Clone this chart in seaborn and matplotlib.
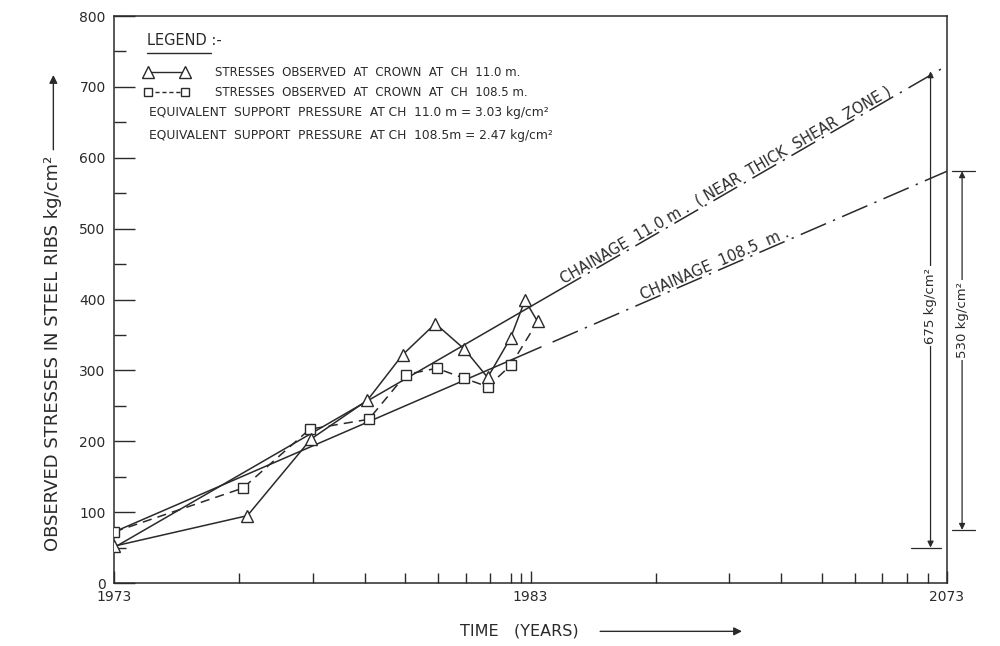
import numpy as np
import pandas as pd
import matplotlib
matplotlib.use("Agg")
import matplotlib.pyplot as plt
from matplotlib.lines import Line2D
from matplotlib.ticker import FixedLocator, NullFormatter, MultipleLocator
import seaborn as sns

# time axis is logarithmic: 1 -> 1973, 10 -> 1983, 100 -> 2073
year_ticks = [1, 10, 100]
year_labels = ["1973", "1983", "2073"]
year_minor = [2, 3, 4, 5, 6, 7, 8, 9, 9.5, 20, 30, 40, 50, 60, 70, 80, 90]

# observed stresses at crown (kg/cm2)
t_ch11 = [1.0, 2.09, 2.97, 4.06, 4.93, 5.91, 6.94, 7.89, 8.96, 9.7, 10.4]
s_ch11 = [52, 95, 203, 258, 322, 366, 330, 290, 346, 399, 369]
t_ch108 = [1.0, 2.04, 2.95, 4.09, 5.02, 5.95, 6.92, 7.89, 8.96, 10.4]
s_ch108 = [72, 134, 217, 231, 294, 303, 289, 277, 307, 369]

# fitted trend lines and their extrapolation to 2073
fit11_t = [1.0, 11.6]
fit11_s = [50, 412]
ext11_t = [11.6, 100]
ext11_s = [412, 730]
fit108_t = [1.0, 10.6]
fit108_s = [72, 333]
ext108_t = [11.3, 100]
ext108_s = [340, 581]

# dimension marks on the right
dim_t = [91.3, 108.7]
dim_top = [722, 581]
dim_bot = [50, 75]
dim_bar_lo = [82, 102.7]
dim_bar_hi = [96.6, 117]
dim_text_y = [391, 371]
dim_labels = ["675 kg/cm²", "530 kg/cm²"]

ink = "#2a2a2a"

sns.set_style("ticks")
plt.rcParams["font.family"] = ["DejaVu Sans"]
plt.rcParams["text.color"] = ink
plt.rcParams["axes.labelcolor"] = ink
plt.rcParams["xtick.color"] = ink
plt.rcParams["ytick.color"] = ink

fig = plt.figure(figsize=(10, 6.46), dpi=100)
fig.patch.set_facecolor("white")
ax = fig.add_axes([0.114, 0.0975, 0.833, 0.8777])

df11 = pd.DataFrame({"t": t_ch11, "stress": s_ch11})
df108 = pd.DataFrame({"t": t_ch108, "stress": s_ch108})

sns.lineplot(data=df11, x="t", y="stress", ax=ax, color=ink, lw=1.1, sort=False,
             marker="^", markersize=9, markerfacecolor="white", markeredgecolor=ink,
             markeredgewidth=1.0, legend=False, zorder=4)
sns.lineplot(data=df108, x="t", y="stress", ax=ax, color=ink, lw=1.1, sort=False,
             linestyle=(0, (6, 4)), marker="s", markersize=7, markerfacecolor="white",
             markeredgecolor=ink, markeredgewidth=1.0,
             markevery=list(range(len(t_ch108) - 1)), legend=False, zorder=3)

# trend lines
sns.lineplot(x=fit11_t, y=fit11_s, ax=ax, color=ink, lw=1.1, legend=False)
sns.lineplot(x=fit108_t, y=fit108_s, ax=ax, color=ink, lw=1.1, legend=False)
sns.lineplot(x=ext11_t, y=ext11_s, ax=ax, color=ink, lw=1.1, legend=False,
             linestyle=(0, (18, 5, 1.5, 5)))
sns.lineplot(x=ext108_t, y=ext108_s, ax=ax, color=ink, lw=1.1, legend=False,
             linestyle=(0, (18, 5, 1.5, 5)))

ax.set_xscale("log")
ax.set_xlim(1, 100)
ax.set_ylim(0, 800)
ax.xaxis.set_major_locator(FixedLocator(year_ticks))
ax.set_xticklabels(year_labels)
ax.xaxis.set_minor_locator(FixedLocator(year_minor))
ax.xaxis.set_minor_formatter(NullFormatter())
ax.set_yticks(range(0, 801, 100))
ax.yaxis.set_minor_locator(MultipleLocator(50))

ax.tick_params(axis="x", which="major", direction="in", length=9, width=1, labelsize=10, pad=5)
ax.tick_params(axis="x", which="minor", direction="in", length=7, width=1)
ax.tick_params(axis="y", which="major", direction="in", length=15, width=1, labelsize=10, pad=6)
ax.tick_params(axis="y", which="minor", direction="in", length=8.5, width=1)
for sp in ax.spines.values():
    sp.set_visible(True)
    sp.set_color(ink)
    sp.set_linewidth(1.1)

ax.set_xlabel("TIME   (YEARS)", fontsize=11.5)
ax.xaxis.set_label_coords(0.486, -0.072)
ax.set_ylabel("OBSERVED STRESSES IN STEEL RIBS kg/cm²", fontsize=13)
ax.yaxis.set_label_coords(-0.062, 0.405)

# texts along the extrapolated lines
def along(t_pts, s_pts, t_mid, text):
    p1 = ax.transData.transform((t_pts[0], s_pts[0]))
    p2 = ax.transData.transform((t_pts[1], s_pts[1]))
    ang = np.degrees(np.arctan2(p2[1] - p1[1], p2[0] - p1[0]))
    frac = (np.log10(t_mid) - np.log10(t_pts[0])) / (np.log10(t_pts[1]) - np.log10(t_pts[0]))
    s_mid = s_pts[0] + frac * (s_pts[1] - s_pts[0])
    ax.text(t_mid, s_mid, text, rotation=ang, rotation_mode="anchor", ha="center",
            va="bottom", fontsize=10.5, color=ink)

along(ext11_t, ext11_s, 30.0, "CHAINAGE  11.0 m .  ( NEAR  THICK  SHEAR  ZONE )")
along(ext108_t, ext108_s, 28.1, "CHAINAGE  108.5  m .")

# dimension arrows
for t, top, bot, lo, hi, ty, lab in zip(dim_t, dim_top, dim_bot, dim_bar_lo, dim_bar_hi,
                                         dim_text_y, dim_labels):
    ax.annotate("", xy=(t, top), xytext=(t, bot), annotation_clip=False,
                arrowprops=dict(arrowstyle="<|-|>", color=ink, lw=0.9,
                                mutation_scale=9, shrinkA=0, shrinkB=0))
    ax.plot([lo, hi], [bot, bot], color=ink, lw=0.9, clip_on=False)
    ax.text(t, ty, lab, rotation=90, ha="center", va="center", fontsize=9.5,
            color=ink, zorder=6, clip_on=False,
            bbox=dict(fc="white", ec="none", pad=1.5))
ax.plot([dim_bar_lo[1], dim_bar_hi[1]], [dim_top[1], dim_top[1]], color=ink, lw=0.9,
        clip_on=False)

# legend block
ax.text(0.040, 0.957, "LEGEND :-", transform=ax.transAxes, fontsize=10.5,
        ha="left", va="center")
ax.plot([0.040, 0.117], [0.934, 0.934], transform=ax.transAxes, color=ink, lw=1)
h11 = Line2D([], [], color=ink, lw=1.0, marker="^", markersize=8,
             markerfacecolor="white", markeredgecolor=ink)
h108 = Line2D([], [], color=ink, lw=1.0, linestyle=(0, (3, 2)), marker="s", markersize=6,
              markerfacecolor="white", markeredgecolor=ink)
ax.legend([h11, h108], ["STRESSES  OBSERVED  AT  CROWN  AT  CH  11.0 m.",
                        "STRESSES  OBSERVED  AT  CROWN  AT  CH  108.5 m."],
          loc="upper left", bbox_to_anchor=(0.036, 0.912), frameon=False, numpoints=2,
          handlelength=3.8, handletextpad=2.2, labelspacing=0.6, fontsize=8.5,
          borderpad=0, borderaxespad=0)
ax.text(0.042, 0.829, "EQUIVALENT  SUPPORT  PRESSURE  AT CH  11.0 m = 3.03 kg/cm²",
        transform=ax.transAxes, fontsize=8.8, ha="left", va="center")
ax.text(0.042, 0.790, "EQUIVALENT  SUPPORT  PRESSURE  AT CH  108.5m = 2.47 kg/cm²",
        transform=ax.transAxes, fontsize=8.8, ha="left", va="center")

# arrows after the axis titles
fig.canvas.draw()
bb = ax.xaxis.label.get_window_extent()
ym = (bb.y0 + bb.y1) / 2
ax.annotate("", xy=(742, ym), xytext=(bb.x1 + 22, ym), xycoords="figure pixels",
            textcoords="figure pixels", annotation_clip=False,
            arrowprops=dict(arrowstyle="-|>", color=ink, lw=1, mutation_scale=12,
                            shrinkA=0, shrinkB=0))
bb = ax.yaxis.label.get_window_extent()
xm = (bb.x0 + bb.x1) / 2
ax.annotate("", xy=(xm, 646 - 75), xytext=(xm, bb.y1 + 6), xycoords="figure pixels",
            textcoords="figure pixels", annotation_clip=False,
            arrowprops=dict(arrowstyle="-|>", color=ink, lw=1, mutation_scale=12,
                            shrinkA=0, shrinkB=0))

fig.savefig("out.png", dpi=100, facecolor="white")
